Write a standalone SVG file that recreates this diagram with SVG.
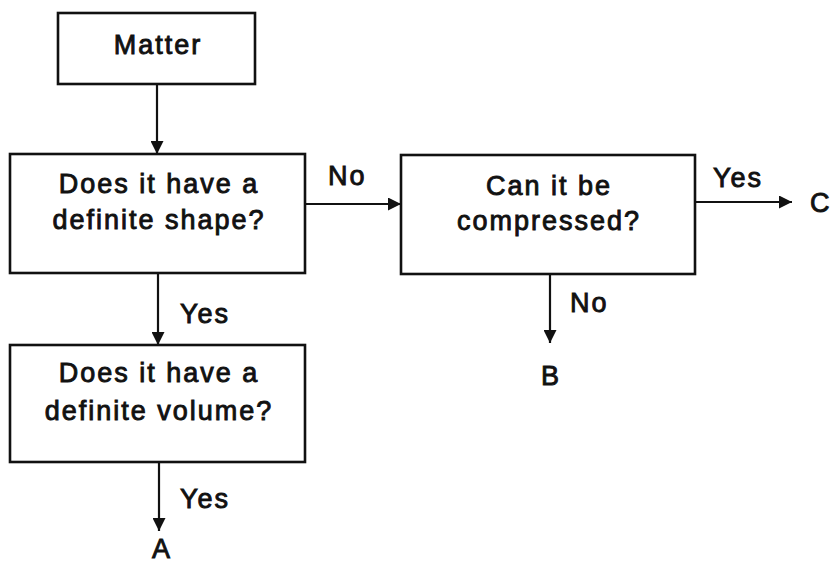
<svg xmlns="http://www.w3.org/2000/svg" width="836" height="563" viewBox="0 0 836 563">
<style>
.box{fill:#fff;stroke:#111;stroke-width:2.6}
.t{font-family:"Liberation Sans",Arial,sans-serif;font-size:27px;letter-spacing:2px;fill:#111;stroke:#111;stroke-width:0.9;text-anchor:middle}
.l{font-family:"Liberation Sans",Arial,sans-serif;font-size:27px;letter-spacing:2px;fill:#111;stroke:#111;stroke-width:0.9}
.c{stroke:#111;stroke-width:2.2;fill:none}
</style>
<defs>
<marker id="ah" viewBox="0 0 12 12" refX="12" refY="6" markerWidth="13" markerHeight="13" markerUnits="userSpaceOnUse" orient="auto">
<path d="M0,0 L12,6 L0,12 z" fill="#111"/>
</marker>
</defs>
<rect width="836" height="563" fill="#fff"/>
<g id="connectors">
<line class="c" x1="157" y1="84" x2="157" y2="154" marker-end="url(#ah)"/>
<line class="c" x1="305" y1="204" x2="401" y2="204" marker-end="url(#ah)"/>
<line class="c" x1="695" y1="202" x2="792" y2="202" marker-end="url(#ah)"/>
<line class="c" x1="550" y1="274" x2="550" y2="343" marker-end="url(#ah)"/>
<line class="c" x1="158" y1="273" x2="158" y2="345" marker-end="url(#ah)"/>
<line class="c" x1="159" y1="462" x2="159" y2="531" marker-end="url(#ah)"/>
<text class="l" x="328" y="185">No</text>
<text class="l" x="713" y="187">Yes</text>
<text class="l" x="570" y="312">No</text>
<text class="l" x="180" y="323">Yes</text>
<text class="l" x="180" y="508">Yes</text>
</g>
<g id="matter">
<rect class="box" x="58" y="13" width="197" height="71"/>
<text class="t" x="158" y="54">Matter</text>
</g>
<g id="shape">
<rect class="box" x="10" y="154" width="295" height="119"/>
<text class="t" x="159" y="193">Does it have a</text>
<text class="t" x="159" y="229">definite shape?</text>
</g>
<g id="compress">
<rect class="box" x="401" y="155" width="294" height="119"/>
<text class="t" x="549" y="195">Can it be</text>
<text class="t" x="549" y="230">compressed?</text>
</g>
<g id="volume">
<rect class="box" x="10" y="345" width="295" height="117"/>
<text class="t" x="159" y="382">Does it have a</text>
<text class="t" x="159" y="420">definite volume?</text>
</g>
<g id="C"><text class="l" x="810" y="212">C</text></g>
<g id="B"><text class="t" x="551" y="385">B</text></g>
<g id="A"><text class="t" x="162" y="558">A</text></g>
</svg>
